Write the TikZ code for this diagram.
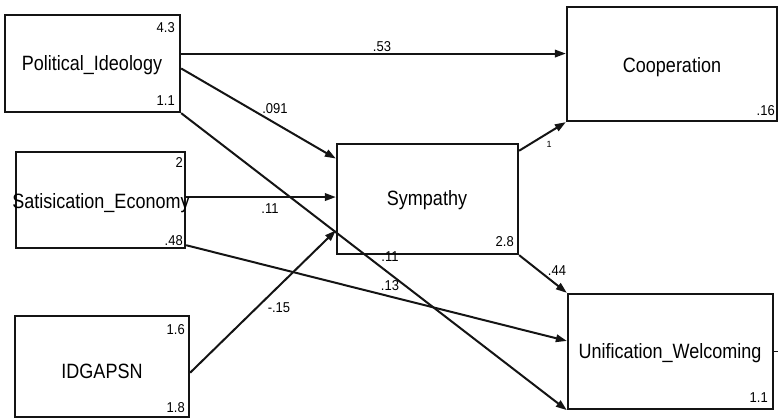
\documentclass[tikz,border=0pt]{standalone}
\usepackage{fontspec}
\setmainfont{Liberation Sans}
\usetikzlibrary{arrows.meta,calc}
% names and numbers are set a little taller than wide
\newcommand{\tallt}[1]{\scalebox{1}[1.15]{#1}}
\newcommand{\tallnum}[1]{\scalebox{1}[1.1]{#1}}
\begin{document}
\begin{tikzpicture}[x=1pt,y=-1pt,
  var/.style={draw=black!92, line width=2.3pt, inner sep=0pt},
  vname/.style={font=\fontsize{18}{20}\selectfont, inner sep=0pt},
  est/.style={font=\fontsize{13}{14}\selectfont, inner sep=0pt, anchor=east},
  coef/.style={font=\fontsize{13}{14}\selectfont, inner sep=0pt},
  arr/.style={draw=black!92, line width=2pt, -{Triangle[length=11pt,width=7.5pt]}},
]
\useasboundingbox (0,0) rectangle (778,419);

% observed variables
\node[var, minimum width=175pt, minimum height=97pt]  (pol)  at (92.5,63.5) {};
\node[var, minimum width=169pt, minimum height=96pt]  (sat)  at (100.5,200) {};
\node[var, minimum width=174pt, minimum height=101pt] (idg)  at (102,366.5) {};
\node[var, minimum width=181pt, minimum height=110pt] (sym)  at (427.5,199) {};
\node[var, minimum width=210pt, minimum height=114pt] (coop) at (672,64) {};
\node[var, minimum width=205pt, minimum height=115pt] (uni)  at (670.5,351.5) {};

% attachment points on the box sides
\coordinate (p1) at ($(pol.north east)!0.40!(pol.south east)$);
\coordinate (p2) at ($(pol.north east)!0.55!(pol.south east)$);
\coordinate (s1) at ($(sat.north east)!0.47!(sat.south east)$);
\coordinate (s2) at ($(sat.north east)!0.96!(sat.south east)$);
\coordinate (i1) at ($(idg.north east)!0.56!(idg.south east)$);
\coordinate (y1) at ($(sym.north west)!0.14!(sym.south west)$);
\coordinate (y2) at ($(sym.north west)!0.78!(sym.south west)$);
\coordinate (y3) at ($(sym.north east)!0.07!(sym.south east)$);
\coordinate (u1) at ($(uni.north west)!0.41!(uni.south west)$);

% paths
\draw[arr] (p1) -- (p1 -| coop.west);
\draw[arr] (p2) -- (y1);
\draw[arr] (pol.south east) -- (uni.south west);
\draw[arr] (s1) -- (s1 -| sym.west);
\draw[arr] (s2) -- (u1);
\draw[arr] (i1) -- (y2);
\draw[arr] (y3) -- (coop.south west);
\draw[arr] (sym.south east) -- (uni.north west);
\draw[draw=black!92, line width=1.2pt] (uni.east) -- ++(4,0);

% path coefficients
\node[coef] (c1) at (382,47)  {\tallnum{.53}};
\node[coef] (c2) at (275,109) {\tallnum{.091}};
\node[coef] (c3) at (270,209) {\tallnum{.11}};
\node[coef] (c4) at (279,308) {\tallnum{-.15}};
\node[coef] (c5) at (390,286) {\tallnum{.13}};
\node[coef] (c6) at (390,257) {\tallnum{.11}};
\node[coef] (c7) at (557,271) {\tallnum{.44}};
\node[coef, font=\fontsize{9}{10}\selectfont] (c8) at (549,144) {1};

% variable names
\node[vname] (tpol)  at (92,65)    {\tallt{Political\_Ideology}};
\node[vname] (tsat)  at (101,203)  {\tallt{Satisication\_Economy}};
\node[vname] (tidg)  at (102,371)  {\tallt{IDGAPSN}};
\node[vname] (tsym)  at (427,200)  {\tallt{Sympathy}};
\node[vname] (tcoop) at (672,67)   {\tallt{Cooperation}};
\node[vname] (tuni)  at (670,353)  {\tallt{Unification\_Welcoming}};

% means and variances
\node[est] (e1) at (175,27.5) {\tallnum{4.3}};
\node[est] (e2) at (175,101)  {\tallnum{1.1}};
\node[est] (e3) at (183,163)  {\tallnum{2}};
\node[est] (e4) at (183,241)  {\tallnum{.48}};
\node[est] (e5) at (185,330)  {\tallnum{1.6}};
\node[est] (e6) at (185,408)  {\tallnum{1.8}};
\node[est] (e7) at (514,242)  {\tallnum{2.8}};
\node[est] (e8) at (775,111)  {\tallnum{.16}};
\node[est] (e9) at (768,398)  {\tallnum{1.1}};
\end{tikzpicture}
\end{document}
